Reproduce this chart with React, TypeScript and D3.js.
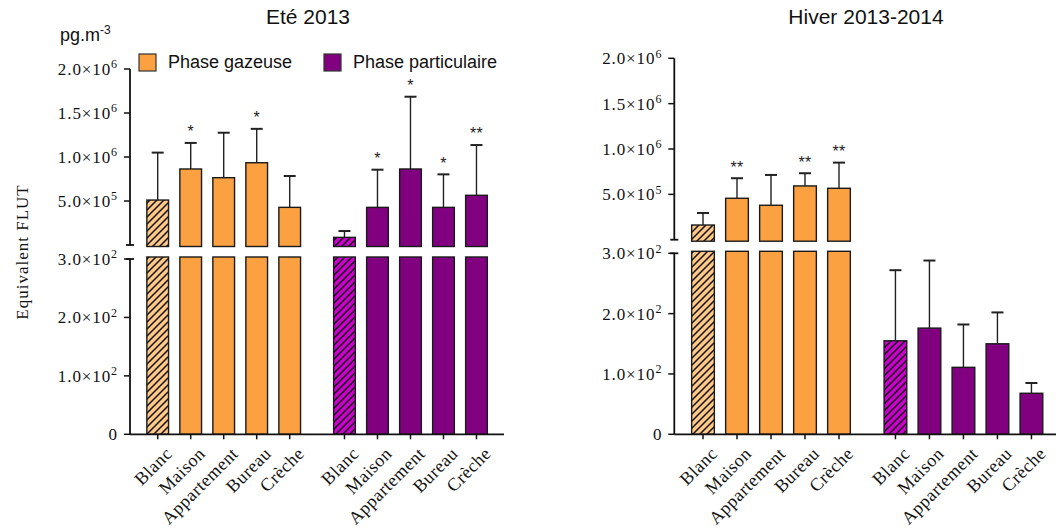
import React from "react";
import * as d3 from "d3";

const categories = ["Blanc", "Maison", "Appartement", "Bureau", "Crèche"];

const summerGas = [511000, 864000, 765000, 935000, 428000];
const summerGasSD = [539000, 296000, 511000, 385000, 356000];
const summerGasSig = ["", "*", "", "*", ""];
const summerPart = [87000, 428000, 864000, 428000, 565000];
const summerPartSD = [72000, 428000, 821000, 375000, 571000];
const summerPartSig = ["", "*", "*", "*", "**"];

const winterGas = [162000, 457000, 380000, 593000, 567000];
const winterGasSD = [133000, 221000, 334000, 140000, 283000];
const winterGasSig = ["", "**", "", "**", "**"];
const winterPart = [155, 176, 111, 150, 68];
const winterPartSD = [117, 112, 71, 52, 17];
const winterPartSig = ["", "", "", "", ""];

const upperTicks = [500000, 1000000, 1500000, 2000000];
const lowerTicks = [0, 100, 200, 300];
const BREAK = 300;
const TOP = 2000000;

const ORANGE = "#FBA142";
const PURPLE = "#800080";

const SERIF = "Liberation Serif";
const SANS = "Liberation Sans";

type PanelCfg = {
  title: string;
  titleX: number;
  axisX: number;
  xEnd: number;
  hiRange: [number, number];
  loRange: [number, number];
  slot0: number;
  slotW: number;
  barW: number;
  gas: number[];
  gasSD: number[];
  gasSig: string[];
  part: number[];
  partSD: number[];
  partSig: string[];
};

function fmtTick(v: number) {
  if (v === 0) return { m: "0", e: "" };
  const e = Math.floor(Math.log10(v));
  const m = (v / Math.pow(10, e)).toFixed(1);
  return { m: m + "×10", e: String(e) };
}

function Panel({ cfg }: { cfg: PanelCfg }) {
  const yHi = d3.scaleLinear().domain([BREAK, TOP]).range(cfg.hiRange);
  const yLo = d3.scaleLinear().domain([0, BREAK]).range(cfg.loRange).clamp(true);
  const xs = d3.scaleLinear().domain([0, 1]).range([cfg.slot0, cfg.slot0 + cfg.slotW]);
  const groupGap = 1.66;
  const axisY = yLo(0);
  const hiBottom = yHi(BREAK);
  const loTop = yLo(BREAK);

  const series = [
    { vals: cfg.gas, sd: cfg.gasSD, sig: cfg.gasSig, fill: ORANGE, blank: "url(#hatchOrange)" },
    { vals: cfg.part, sd: cfg.partSD, sig: cfg.partSig, fill: PURPLE, blank: "url(#hatchPurple)" },
  ];

  const marks: React.ReactNode[] = [];
  const labels: React.ReactNode[] = [];
  series.forEach((s, si) => {
    s.vals.forEach((v, i) => {
      const slot = si === 0 ? i : 5 + (groupGap - 1) + i;
      const cx = xs(slot);
      const x0 = cx - cfg.barW / 2;
      const fill = i === 0 ? s.blank : s.fill;
      const key = `${si}-${i}`;
      const lowTopY = v > BREAK ? loTop - 2 : yLo(v);
      marks.push(
        <rect key={"lo" + key} x={x0} y={lowTopY} width={cfg.barW} height={axisY - lowTopY}
          fill={fill} stroke="#1a1a1a" strokeWidth={1.4} />
      );
      if (v > BREAK) {
        const top = yHi(v);
        marks.push(
          <rect key={"hi" + key} x={x0} y={top} width={cfg.barW} height={hiBottom + 1.5 - top}
            fill={fill} stroke="#1a1a1a" strokeWidth={1.4} />
        );
      }
      const errV = v + s.sd[i];
      const yTop = v > BREAK ? yHi(v) : yLo(v);
      const yErr = errV > BREAK ? yHi(errV) : yLo(errV);
      marks.push(
        <g key={"e" + key} stroke="#222" strokeWidth={1.4}>
          <line x1={cx} x2={cx} y1={yTop} y2={yErr} />
          <line x1={cx - 6} x2={cx + 6} y1={yErr} y2={yErr} strokeWidth={2} />
        </g>
      );
      if (s.sig[i]) {
        marks.push(
          <text key={"s" + key} x={cx} y={yErr + 8} textAnchor="middle" fontSize={16}
            fontFamily={SANS} fill="#222" letterSpacing={0.3}
            dy="-0.85em">{s.sig[i]}</text>
        );
      }
      labels.push(
        <line key={"xt" + key} x1={cx} x2={cx} y1={axisY} y2={axisY + 5} stroke="#111" strokeWidth={1.5} />
      );
      labels.push(
        <text key={"xl" + key} transform={`translate(${cx + 6},${axisY + 11}) rotate(-45)`}
          textAnchor="end" dy="0.75em" fontSize={18} fontFamily={SERIF} letterSpacing={0.5} fill="#111">
          {categories[i]}
        </text>
      );
    });
  });

  const tickLabel = (v: number, y: number, k: string) => {
    const f = fmtTick(v);
    return (
      <g key={k}>
        <line x1={cfg.axisX - 6} x2={cfg.axisX} y1={y} y2={y} stroke="#111" strokeWidth={1.5} />
        <text x={cfg.axisX - 12} y={y} dy="0.35em" textAnchor="end" fontSize={17}
          fontFamily={SERIF} letterSpacing={0.9} fill="#111">
          {f.m}
          {f.e && <tspan fontSize={12} dy="-0.55em">{f.e}</tspan>}
        </text>
      </g>
    );
  };

  return (
    <g>
      <text x={cfg.titleX} y={24} textAnchor="middle" fontSize={21} fontFamily={SANS} fill="#111">
        {cfg.title}
      </text>
      {marks}
      <line x1={cfg.axisX} x2={cfg.axisX} y1={yHi(TOP)} y2={hiBottom} stroke="#111" strokeWidth={1.8} />
      <line x1={cfg.axisX - 4} x2={cfg.axisX + 4} y1={hiBottom} y2={hiBottom} stroke="#111" strokeWidth={1.8} />
      <line x1={cfg.axisX} x2={cfg.axisX} y1={loTop} y2={axisY} stroke="#111" strokeWidth={1.8} />
      <line x1={cfg.axisX - 4} x2={cfg.axisX + 4} y1={loTop} y2={loTop} stroke="#111" strokeWidth={1.8} />
      <line x1={cfg.axisX} x2={cfg.xEnd} y1={axisY} y2={axisY} stroke="#111" strokeWidth={1.8} />
      {upperTicks.map((t) => tickLabel(t, yHi(t), "u" + t))}
      {lowerTicks.map((t) => tickLabel(t, yLo(t), "l" + t))}
      {labels}
    </g>
  );
}

export default function App() {
  const left: PanelCfg = {
    title: "Eté 2013", titleX: 308, axisX: 130, xEnd: 504,
    hiRange: [245, 69], loRange: [434.3, 259], slot0: 157.7, slotW: 33, barW: 21.7,
    gas: summerGas, gasSD: summerGasSD, gasSig: summerGasSig,
    part: summerPart, partSD: summerPartSD, partSig: summerPartSig,
  };
  const right: PanelCfg = {
    title: "Hiver 2013-2014", titleX: 866, axisX: 674.3, xEnd: 1056,
    hiRange: [239.7, 58.3], loRange: [434.3, 253.3], slot0: 703, slotW: 34, barW: 22.7,
    gas: winterGas, gasSD: winterGasSD, gasSig: winterGasSig,
    part: winterPart, partSD: winterPartSD, partSig: winterPartSig,
  };
  return (
    <svg width={1056} height={528} style={{ position: "absolute", left: 0, top: 0, background: "#fff" }}>
      <defs>
        <pattern id="hatchOrange" patternUnits="userSpaceOnUse" width={7} height={7}>
          <rect width={7} height={7} fill="#FFC886" />
          <path d="M-1,1 L1,-1 M0,7 L7,0 M6,8 L8,6" stroke="#111" strokeWidth={1.5} />
        </pattern>
        <pattern id="hatchPurple" patternUnits="userSpaceOnUse" width={7} height={7}>
          <rect width={7} height={7} fill="#CC00CC" />
          <path d="M-1,1 L1,-1 M0,7 L7,0 M6,8 L8,6" stroke="#111" strokeWidth={1.5} />
        </pattern>
      </defs>
      <rect width={1056} height={528} fill="#fff" />
      <Panel cfg={left} />
      <Panel cfg={right} />
      <text x={60} y={41} fontSize={18} fontFamily={SANS} fill="#111">
        pg.m<tspan fontSize={12} dy="-0.6em">-3</tspan>
      </text>
      <rect x={139} y={54} width={17} height={17} fill={ORANGE} stroke="#333" strokeWidth={1.2} />
      <text x={168} y={62} dy="0.35em" fontSize={18} fontFamily={SANS} fill="#111">Phase gazeuse</text>
      <rect x={324} y={54} width={17} height={17} fill={PURPLE} stroke="#333" strokeWidth={1.2} />
      <text x={353} y={62} dy="0.35em" fontSize={18} fontFamily={SANS} fill="#111">Phase particulaire</text>
      <text transform="translate(22,252) rotate(-90)" textAnchor="middle" dy="0.35em" fontSize={17}
        fontFamily={SERIF} letterSpacing={1} fill="#111">Equivalent FLUT</text>
    </svg>
  );
}
